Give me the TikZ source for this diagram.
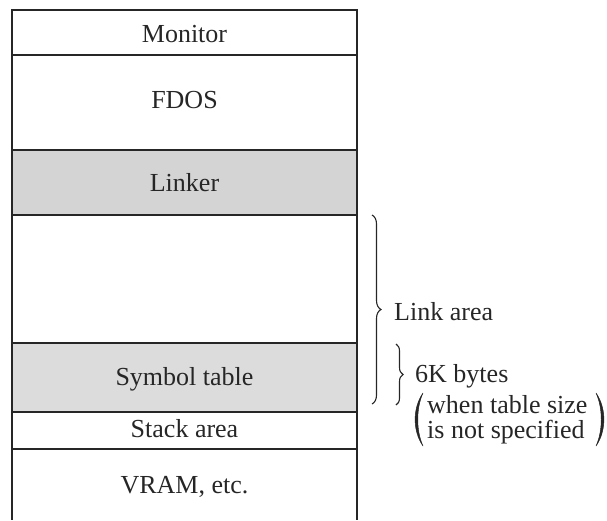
\documentclass[tikz,border=0pt]{standalone}
\usepackage{fontspec}
\setmainfont{Liberation Serif}
\usetikzlibrary{decorations.pathreplacing}
\definecolor{ink}{HTML}{262626}
\definecolor{shadeA}{HTML}{D4D4D4}
\definecolor{shadeB}{HTML}{DCDCDC}
\begin{document}
\begin{tikzpicture}[x=1pt,y=-1pt,
  font=\fontsize{26}{20}\selectfont,
  every node/.style={text=ink, inner sep=0pt},
  lbl/.style={anchor=base},
  side/.style={anchor=base west},
  outerline/.style={draw=ink, line width=2.6pt},
  sepline/.style={draw=ink, line width=1.8pt},
  bracestyle/.style={draw=ink, line width=1.1pt, decorate},
  parenstyle/.style={fill=ink, draw=ink, line width=0.5pt, line join=round}]
\useasboundingbox (0,0) rectangle (607,520);
% shaded regions
\fill[shadeA] (12,150) rectangle (357,215);
\fill[shadeB] (12,343) rectangle (357,412);
% separators
\foreach \yy in {55,150,215,343,412,449}
  \draw[sepline] (12,\yy) -- (357,\yy);
\draw[outerline] (12,520) -- (12,10) -- (357,10) -- (357,520);
% labels
\node[lbl] (monitor) at (184.5,42) {Monitor};
\node[lbl] (fdos) at (184.5,108) {FDOS};
\node[lbl] (linker) at (184.5,191) {Linker};
\node[lbl] (symtab) at (184.5,385) {Symbol table};
\node[lbl] (stack) at (184.5,437) {Stack area};
\node[lbl] (vram) at (184.5,493) {VRAM, etc.};
% braces
\coordinate (la1) at (372,215);
\coordinate (la2) at (372,404);
\draw[bracestyle, decoration={brace, amplitude=9pt}] (la1) -- (la2);
\node[side] (linkarea) at (394,320) {Link area};
\coordinate (sk1) at (396,344);
\coordinate (sk2) at (396,405);
\draw[bracestyle, decoration={brace, amplitude=7pt}] (sk1) -- (sk2);
\node[side] (sixk) at (415,382) {6K bytes};
% parenthetical note
\node[side] (note1) at (427,413) {when table size};
\node[side] (note2) at (427,438) {is not specified};
\coordinate (lp1) at (423,393);
\coordinate (lp2) at (423,446);
\coordinate (rp1) at (596,393);
\coordinate (rp2) at (596,446);
\path[parenstyle] (lp1) .. controls (412.5,408) and (412.5,431) .. (lp2)
  .. controls (416,431) and (416,408) .. (lp1) -- cycle;
\path[parenstyle] (rp1) .. controls (606.5,408) and (606.5,431) .. (rp2)
  .. controls (603,431) and (603,408) .. (rp1) -- cycle;
\end{tikzpicture}
\end{document}
